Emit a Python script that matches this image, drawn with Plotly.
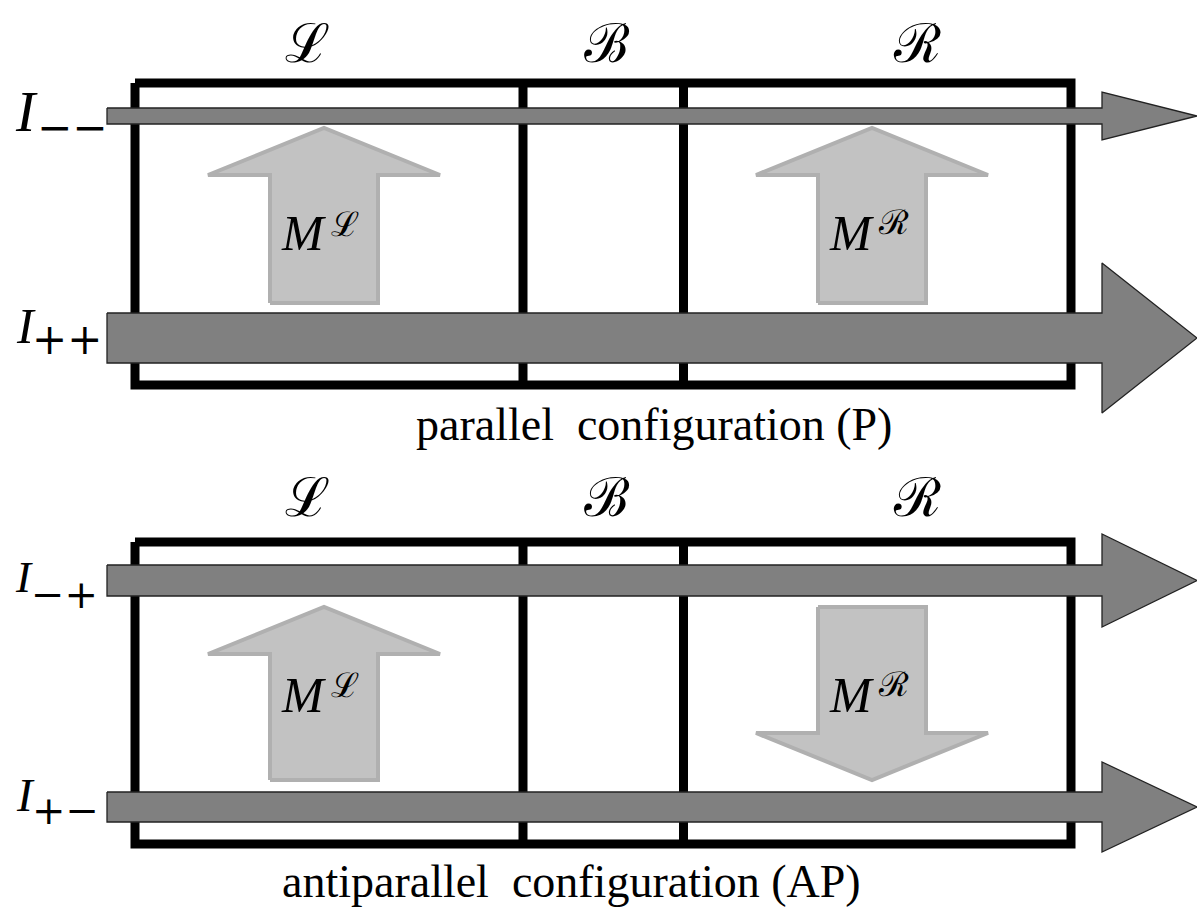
import plotly.graph_objects as go

W, H = 1197, 911

# ---- diagram values (pixel coordinates of the original figure) ----
region_labels = ["ℒ", "ℬ", "ℛ"]
region_label_x = [307, 607, 917]
panel_label_y = [43, 497]

box_edges_x = [135, 523, 683.5, 1071]
box_top_y = [83, 542]
box_bottom_y = [385, 844]

config_titles = ["parallel\u00a0\u00a0configuration (P)",
                 "antiparallel\u00a0\u00a0configuration (AP)"]
config_title_x = [654, 571]
config_title_y = [424, 881]

current_subscripts = ["−−", "++", "−+", "+−"]
current_y = [116, 338, 580.5, 807]
current_thickness = [16, 50, 31, 30]
current_I_x = [26, 26, 24, 25]
current_I_y = [111, 326, 577, 795]
current_I_size = [58, 50, 45, 47]
current_sub_x = [72, 67, 64, 65]
current_sub_y = [127, 339, 594, 810]
current_sub_size = [42, 42, 40, 40]
current_start_x = 107
current_head_x = 1102
current_tip_x = 1197

magnet_sup = ["ℒ", "ℛ", "ℒ", "ℛ"]
magnet_x = [324, 872, 324, 872]
magnet_tail_y = [303, 303, 780, 607]
magnet_tip_y = [128, 128, 607, 780]
magnet_M_y = [233, 233, 695, 695]
magnet_sup_y = [224, 222, 685, 684]
magnet_shaft_half = 54
magnet_head_half = 116
magnet_head_len = 47

fig = go.Figure()

# boxes
for top, bot in zip(box_top_y, box_bottom_y):
    x0, x3 = box_edges_x[0], box_edges_x[-1]
    fig.add_trace(go.Scatter(x=[x0, x3, x3, x0, x0], y=[top, top, bot, bot, top],
                             mode="lines", line=dict(color="black", width=9),
                             hoverinfo="skip", showlegend=False))
    for xd in box_edges_x[1:-1]:
        fig.add_trace(go.Scatter(x=[xd, xd], y=[top, bot], mode="lines",
                                 line=dict(color="black", width=9),
                                 hoverinfo="skip", showlegend=False))

# magnetization arrows
for xc, ty, tip in zip(magnet_x, magnet_tail_y, magnet_tip_y):
    d = -1 if tip < ty else 1
    base = tip - d * magnet_head_len
    xs = [xc - magnet_shaft_half, xc - magnet_shaft_half, xc - magnet_head_half, xc,
          xc + magnet_head_half, xc + magnet_shaft_half, xc + magnet_shaft_half, xc - magnet_shaft_half]
    ys = [ty, base, base, tip, base, base, ty, ty]
    fig.add_trace(go.Scatter(x=xs, y=ys, mode="lines", fill="toself",
                             fillcolor="#c2c2c2", line=dict(color="#b0b0b0", width=4),
                             hoverinfo="skip", showlegend=False))

# current arrows
for yc, th in zip(current_y, current_thickness):
    h = th / 2
    hh = 3 * h
    xs = [current_start_x, current_head_x, current_head_x, current_tip_x,
          current_head_x, current_head_x, current_start_x, current_start_x]
    ys = [yc - h, yc - h, yc - hh, yc, yc + hh, yc + h, yc + h, yc - h]
    fig.add_trace(go.Scatter(x=xs, y=ys, mode="lines", fill="toself",
                             fillcolor="#808080", line=dict(color="#222222", width=1.3),
                             hoverinfo="skip", showlegend=False))

serif = "Liberation Serif"
ann = []
for py in panel_label_y:
    for lab, lx in zip(region_labels, region_label_x):
        ann.append(dict(x=lx, y=py, text=lab, font=dict(family="DejaVu Serif", size=54, color="black")))
for t, tx, ty in zip(config_titles, config_title_x, config_title_y):
    ann.append(dict(x=tx, y=ty, text=t, font=dict(family=serif, size=46, color="black")))
for sub, ix, iy, isz, sx, sy, ssz in zip(current_subscripts, current_I_x, current_I_y, current_I_size,
                                         current_sub_x, current_sub_y, current_sub_size):
    ann.append(dict(x=ix, y=iy, text="<i>I</i>", font=dict(family=serif, size=isz, color="black")))
    ann.append(dict(x=sx, y=sy, text=sub, font=dict(family="DejaVu Serif", size=ssz, color="black")))
for sup, xc, my, sy in zip(magnet_sup, magnet_x, magnet_M_y, magnet_sup_y):
    ann.append(dict(x=xc - 21, y=my, text="<i>M</i>", font=dict(family=serif, size=50, color="black")))
    ann.append(dict(x=xc + 21, y=sy, text=sup, font=dict(family="DejaVu Serif", size=34, color="black")))

for a in ann:
    a.update(xref="x", yref="y", showarrow=False, xanchor="center", yanchor="middle")

fig.update_layout(
    width=W, height=H, margin=dict(l=0, r=0, t=0, b=0),
    paper_bgcolor="white", plot_bgcolor="white",
    xaxis=dict(range=[0, W], visible=False, fixedrange=True),
    yaxis=dict(range=[H, 0], visible=False, fixedrange=True),
    annotations=ann, showlegend=False,
)

fig.write_html("out.html", config={"displayModeBar": False},
               post_script="document.body.style.margin='0';document.body.style.overflow='hidden';")
